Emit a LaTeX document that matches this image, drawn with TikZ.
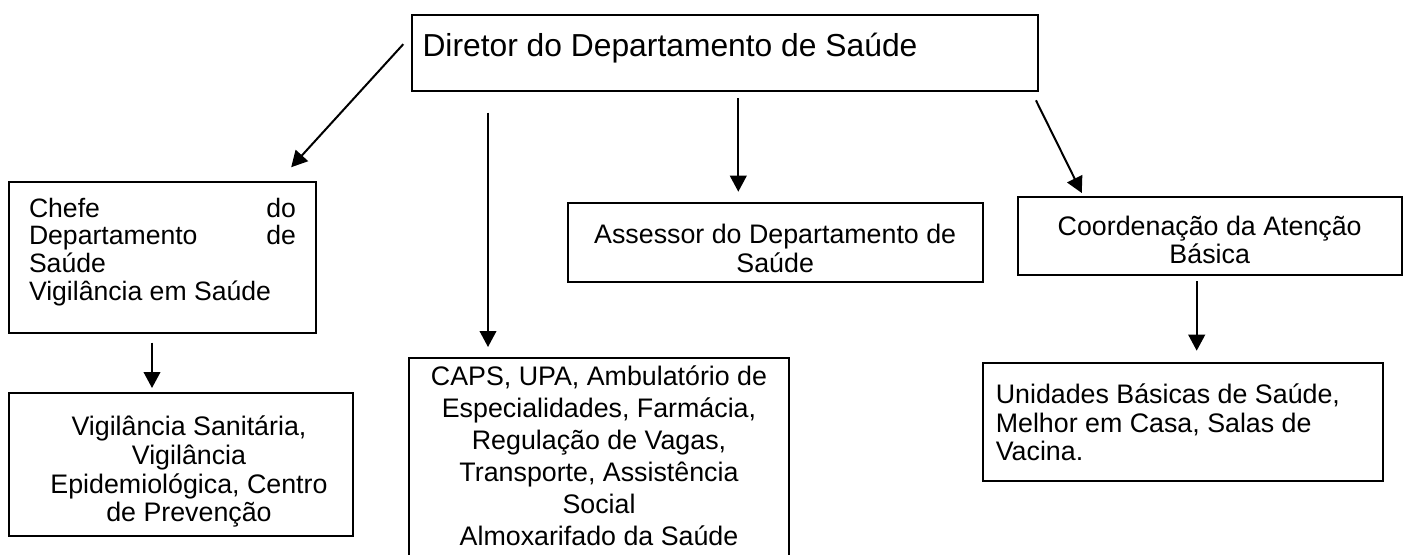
\documentclass[tikz,border=0pt]{standalone}
\usepackage{fontspec}
\setmainfont{Liberation Sans}
\usetikzlibrary{arrows.meta,calc}
\begin{document}
\begin{tikzpicture}[x=0.5pt,y=-0.5pt,
  box/.style={draw, line width=1pt, inner sep=0pt, anchor=base west},
  arr/.style={line width=1pt, -{Triangle[length=8pt,width=8.3pt]}}]
\path[fill=white,use as bounding box] (0,0) rectangle (1406,554);

\node[box, minimum width=313pt, text height=20.5pt, text depth=17.5pt,
  font=\fontsize{15.9}{18}\selectfont] (dir) at (411,56)
  {\makebox[302.5pt][l]{Diretor do Departamento de Saúde}};

\node[box, minimum width=153.5pt, text height=17.8pt, text depth=57.7pt,
  font=\fontsize{13.3}{13.65}\selectfont] (chefe) at (8,217.3)
  {\begin{tabular}[t]{@{}l@{}}\makebox[133.5pt][s]{Chefe\hfill do}\\
   \makebox[133.5pt][s]{Departamento\hfill de}\\ Saúde\\ Vigilância em Saúde\end{tabular}};

\node[box, minimum width=172pt, text height=21.5pt, text depth=50pt,
  font=\fontsize{13.4}{14.35}\selectfont] (vig) at (8,435.7)
  {\hspace*{8pt}\begin{tabular}[t]{@{}c@{}}Vigilância Sanitária,\\ Vigilância\\
   Epidemiológica, Centro\\ de Prevenção\end{tabular}};

\node[box, minimum width=190pt, text height=13.65pt, text depth=92.5pt,
  font=\fontsize{13.4}{16}\selectfont] (caps) at (408,385)
  {\begin{tabular}[t]{@{}c@{}}CAPS, UPA, Ambulatório de\\ Especialidades, Farmácia,\\
   Regulação de Vagas,\\ Transporte, Assistência\\ Social\\ Almoxarifado da Saúde\end{tabular}};

\node[box, minimum width=207.5pt, text height=20pt, text depth=19.2pt,
  font=\fontsize{13.4}{14.7}\selectfont] (ass) at (566.7,243.3)
  {\begin{tabular}[t]{@{}c@{}}Assessor do Departamento de\\ Saúde\end{tabular}};

\node[box, minimum width=192pt, text height=18.85pt, text depth=20pt,
  font=\fontsize{13.4}{13.9}\selectfont] (coord) at (1016.7,235)
  {\begin{tabular}[t]{@{}c@{}}Coordenação da Atenção\\ Básica\end{tabular}};

\node[box, minimum width=200pt, text height=20.3pt, text depth=38.7pt,
  font=\fontsize{13.4}{14.35}\selectfont] (unid) at (982.3,403.3)
  {\makebox[187.5pt][l]{\begin{tabular}[t]{@{}l@{}}Unidades Básicas de Saúde,\\
   Melhor em Casa, Salas de\\ Vacina.\end{tabular}}};

\draw[arr, shorten <=5.7pt, shorten >=9.1pt] ($(dir.north west)+(0,21.7)$) -- ($(chefe.north east)+(-38.1,0)$);
\draw[arr, shorten <=10.35pt, shorten >=4.85pt] ($(dir.south west)+(77,0)$) -- ($(caps.north west)+(80,0)$);
\draw[arr, shorten <=3.15pt, shorten >=5.3pt] ($(dir.south west)+(327.3,0)$) -- ($(ass.north west)+(171.6,0)$);
\draw[arr, shorten <=4.65pt, shorten >=1.85pt] ($(dir.south east)+(-7.2,0)$) -- ($(coord.north west)+(66.7,0)$);
\draw[arr, shorten <=4.5pt, shorten >=1.85pt] ($(chefe.south west)+(144,0)$) -- ($(vig.north west)+(144,0)$);
\draw[arr, shorten <=2.5pt, shorten >=5.5pt] ($(coord.south west)+(180,0)$) -- ($(unid.north west)+(214.4,0)$);
\end{tikzpicture}
\end{document}
